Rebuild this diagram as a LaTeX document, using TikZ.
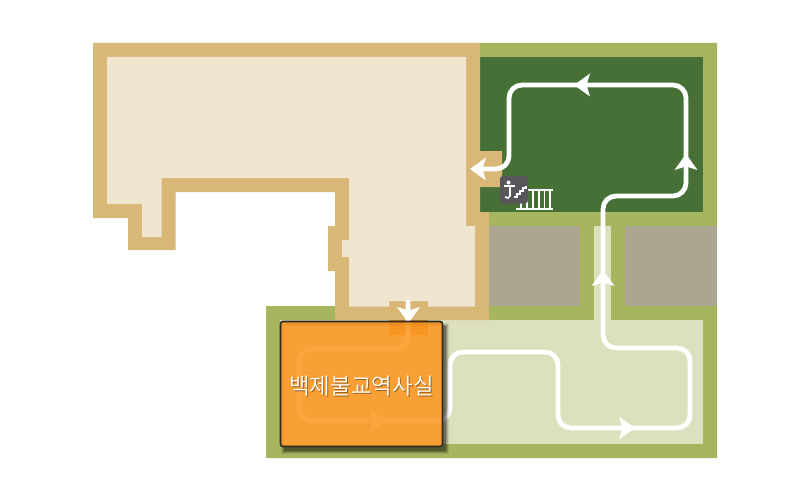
\documentclass[tikz,border=0pt]{standalone}
\usepackage{fontspec}
\newfontfamily\krfont{Noto Sans CJK KR DemiLight}
\definecolor{wall}{HTML}{D8B777}
\definecolor{floorc}{HTML}{F0E5CF}
\definecolor{lgreen}{HTML}{A5B65F}
\definecolor{dgreen}{HTML}{477036}
\definecolor{pale}{HTML}{DCE0BC}
\definecolor{graybox}{HTML}{ACA591}
\definecolor{doorc}{RGB}{215,140,40}
\definecolor{boxfill}{RGB}{253,152,35}
\definecolor{boxedge}{HTML}{2E2C22}
\definecolor{icong}{HTML}{58565A}
\tikzset{
  x=1pt,y=-1pt,
  route/.style={draw=white,line width=4.8pt,rounded corners=13pt},
  routehead/.pic={\fill[white] (0,0)--(-16,-11.5)--(-12.5,0)--(-16,11.5)--cycle;},
  fence/.style={draw=white,line width=1.3pt},
  iconline/.style={draw=white,line width=1.6pt},
  roombox/.style={minimum width=162pt,minimum height=125pt,inner sep=0pt,rounded corners=2.5pt,line width=1.6pt,draw=boxedge},
  roomtext/.style={font=\krfont\fontsize{22.4}{25}\selectfont,inner sep=0pt},
}
\begin{document}
\begin{tikzpicture}
\useasboundingbox (0,0) rectangle (810,500);
\fill[white] (0,0) rectangle (810,500);
% ground
\fill[lgreen] (480,43) -- (717,43) -- (717,458) -- (266,458) -- (266,306) -- (480,306) -- cycle;
\fill[dgreen] (480,57) rectangle (703,212);
\fill[graybox] (489,226) rectangle (580,306);
\fill[graybox] (625,226) rectangle (717,306);
\fill[pale] (594,226) rectangle (611,320);
\fill[pale] (280,320) rectangle (703,444);
% building
\fill[wall] (93,43) -- (480,43) -- (480,151) -- (502,151) -- (502,187) -- (480,187) -- (480,212) -- (489,212) -- (489,320) -- (335,320) -- (335,271) -- (328,271) -- (328,226) -- (335,226) -- (335,192) -- (175.5,192) -- (175.5,250) -- (128,250) -- (128,218) -- (93,218) -- cycle;
\fill[doorc] (389,320) rectangle (428,335);
\fill[floorc] (107,57) -- (466,57) -- (466,226) -- (475,226) -- (475,306.5) -- (428,306.5) -- (428,301) -- (389,301) -- (389,306.5) -- (349,306.5) -- (349,257) -- (342,257) -- (342,240) -- (349,240) -- (349,178) -- (161.5,178) -- (161.5,237) -- (142,237) -- (142,204) -- (107,204) -- cycle;
% route
\coordinate (r0) at (408,300);
\coordinate (r1) at (408,349);
\coordinate (r2) at (299,349);
\coordinate (r3) at (299,421);
\coordinate (r4) at (450,421);
\coordinate (r5) at (450,352);
\coordinate (r6) at (558,352);
\coordinate (r7) at (558,428);
\coordinate (r8) at (690,428);
\coordinate (r9) at (690,348);
\coordinate (r10) at (603,348);
\coordinate (r11) at (603,196);
\coordinate (r12) at (686,196);
\coordinate (r13) at (686,85);
\coordinate (r14) at (509,85);
\coordinate (r15) at (509,169);
\coordinate (r16) at (480,169);
\draw[route] (r0) -- (r1) -- (r2) -- (r3) -- (r4) -- (r5) -- (r6) -- (r7) -- (r8) -- (r9) -- (r10) -- (r11) -- (r12) -- (r13) -- (r14) -- (r15) -- (r16);
\pic[rotate=-90] at (408.5,323) {routehead};
\pic at (386,421) {routehead};
\pic at (635,428) {routehead};
\pic[rotate=90] at (603,270) {routehead};
\pic[rotate=90] at (686,154) {routehead};
\pic[rotate=180] at (574,85) {routehead};
\pic[rotate=180] at (470,169) {routehead};
% fence
\draw[fence] (528,190) -- (553,190);
\draw[fence] (516,209) -- (553,209);
\foreach \fx in {521,527,533,539,544.5,550}
  \draw[fence] (\fx,190) -- (\fx,209);
% stairs sign
\fill[icong,rounded corners=3pt] (500,176) rectangle (528,203.5);
\fill[white] (508.5,182.5) circle (2pt);
\draw[iconline] (504,186) -- (515,186);
\draw[iconline] (510,186) -- (510,196) -- (508,198) -- (505,197);
\draw[iconline] (514,197) -- (517,197) -- (517,194) -- (520,194) -- (520,191) -- (523,191) -- (523,188) -- (526,188) -- (526,186);
% room box shadow, outside the translucent box only
\foreach \gr/\op in {3.0/.07,2.0/.12,1.0/.18,0/.26}
  \fill[black,opacity=\op,even odd rule] (284-\gr,326-\gr) rectangle (446+\gr,451+\gr) (280.5,321.5) rectangle (442.5,446.5);
\node[roombox,fill=boxfill,fill opacity=.88] (room) at (361.5,384) {};
\node[roomtext,text=black,opacity=.4] (roomshadow) at (362.5,387.5) {백제불교역사실};
\node[roomtext,text=white] (roomlabel) at (361.5,386.5) {백제불교역사실};
\end{tikzpicture}
\end{document}
